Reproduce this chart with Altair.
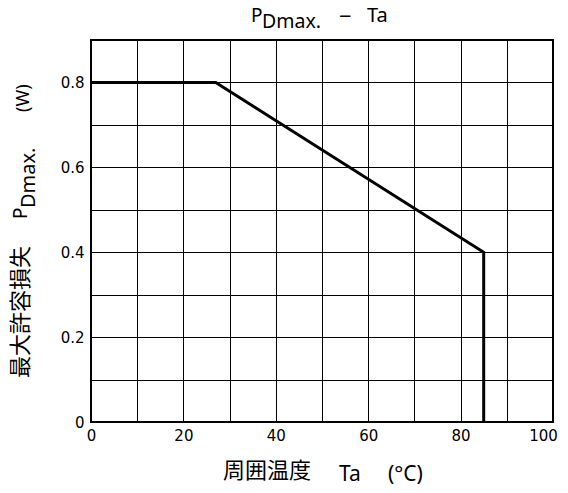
import altair as alt
import pandas as pd

# data
ta = [0, 27, 85, 85]
pd_max = [0.8, 0.8, 0.4, 0.0]

x_grid = [0, 10, 20, 30, 40, 50, 60, 70, 80, 90, 100]
y_grid = [0, 0.1, 0.2, 0.3, 0.4, 0.5, 0.6, 0.7, 0.8, 0.9]

W, H = 462, 382
FONT = "DejaVu Sans"
LAT = "Noto Sans"
CJK = "Noto Sans CJK JP"

df = pd.DataFrame({"ta": ta, "p": pd_max})

x_enc = alt.X("ta:Q", scale=alt.Scale(domain=[0, 100], nice=False),
              axis=alt.Axis(values=x_grid, grid=True, gridColor="black", gridOpacity=1,
                            gridWidth=1, ticks=False, domain=False, labelPadding=6,
                            labelFontSize=15, labelFont=FONT, labelColor="black",
                            labelFlush=False,
                            labelOffset={"condition": {"test": "datum.value == 100", "value": -10}, "value": 0},
                            labelExpr="datum.value % 20 == 0 ? datum.label : ''",
                            title=None))
y_enc = alt.Y("p:Q", scale=alt.Scale(domain=[0, 0.9], nice=False, zero=True),
              axis=alt.Axis(values=y_grid, grid=True, gridColor="black", gridOpacity=1,
                            gridWidth=1, ticks=False, domain=False, labelPadding=7,
                            labelFontSize=15, labelFont=FONT, labelColor="black",
                            labelFlush=False,
                            labelExpr="datum.value == 0 ? '0' : (round(datum.value*10) % 2 == 0 ? format(datum.value, '.1f') : '')",
                            title=None))

line = alt.Chart(df).mark_line(color="black", strokeWidth=3, strokeJoin="miter").encode(
    x=x_enc, y=y_enc, order=alt.Order("idx:Q")
).transform_window(idx="row_number()")

def txt(t, x, y, size, font=LAT, angle=0, align="left", baseline="alphabetic"):
    return alt.Chart(pd.DataFrame({"t": [t]})).mark_text(
        font=font, fontSize=size, color="black", angle=angle, align=align, baseline=baseline
    ).encode(text="t:N", x=alt.value(x), y=alt.value(y))

texts = [
    # title
    txt("P", 160, -18, 19),
    txt("Dmax.", 171, -12, 19.5),
    txt("\u2212", 248, -16, 22),
    txt("Ta", 276, -18, 20),
    # y title
    txt("最大許容損失", -63.5, 338, 22, font=CJK, angle=270),
    txt("P", -64, 179, 19, angle=270),
    txt("Dmax.", -56, 168, 20, angle=270),
    txt("(W)", -62.5, 72, 18, angle=270),
    # x title
    txt("周囲温度", 132, 438, 22, font=CJK),
    txt("Ta", 248, 441, 21),
    txt("(°C)", 297, 441, 21),
]

chart = alt.layer(line, *texts).properties(
    width=W, height=H,
    padding={"left": 83, "top": 32, "right": 7, "bottom": 63},
    autosize="none",
).configure_view(stroke="black", strokeWidth=2)

chart.save("out.html", embed_options={"renderer": "svg", "actions": False})
